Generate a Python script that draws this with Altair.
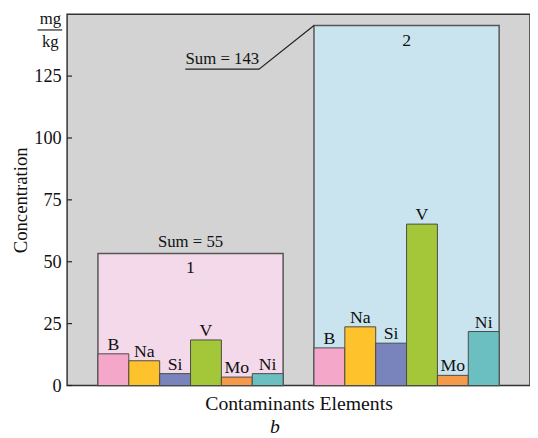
import altair as alt
import pandas as pd

elements = ["B", "Na", "Si", "V", "Mo", "Ni"]
group1_values = [12.8, 10.0, 4.8, 18.4, 3.4, 4.8]
group2_values = [15.2, 23.7, 17.1, 65.2, 4.1, 21.8]
element_colors = ["#F4A7C9", "#FDC22C", "#7A84BC", "#A4C73A", "#F59A4A", "#6BBFC0"]
group_ids = ["1", "2"]
group_sums = ["Sum = 55", "Sum = 143"]
group_start = [1, 8]
group_box_top = [53.3, 145.4]
group_fill = ["#F3D9E9", "#C9E4EF"]
y_ticks = [0, 25, 50, 75, 100, 125]
callout_x = [3.83, 6.22, 8.0]
callout_y = [127.8, 127.8, 145.4]

SERIF = "Liberation Serif"

rows = []
for g, vals in enumerate([group1_values, group2_values]):
    for i, (e, v) in enumerate(zip(elements, vals)):
        rows.append({"group": group_ids[g], "element": e, "value": v,
                     "x": group_start[g] + i, "x2": group_start[g] + i + 1,
                     "color": element_colors[i]})
bars_df = pd.DataFrame(rows)

boxes_df = pd.DataFrame({
    "group": group_ids,
    "x": group_start,
    "x2": [s + len(elements) for s in group_start],
    "top": group_box_top,
    "fill": group_fill,
    "cx": [s + len(elements) / 2 for s in group_start],
})

xs = alt.Scale(domain=[0, 15], nice=False, zero=False)
ys = alt.Scale(domain=[0, 150], nice=False)

xenc = alt.X("x:Q", scale=xs,
             axis=alt.Axis(title="Contaminants Elements", labels=False, ticks=False,
                           domain=False, grid=False, titleFont=SERIF, titleFontSize=20,
                           titleFontWeight="normal", titleColor="#111", titlePadding=8))
yenc = alt.Y("top:Q", scale=ys,
             axis=alt.Axis(title="Concentration", values=y_ticks, ticks=False, domain=False,
                           grid=False, labelFont=SERIF, labelFontSize=18.5, labelColor="#111",
                           labelPadding=6, titleFont=SERIF, titleFontSize=19,
                           titleFontWeight="normal", titleColor="#111", titlePadding=3))

boxes = alt.Chart(boxes_df).mark_rect(stroke="#555555", strokeWidth=1.5).encode(
    x=xenc, x2="x2:Q", y=yenc, y2=alt.datum(0),
    fill=alt.Fill("fill:N", scale=None))

bars = alt.Chart(bars_df).mark_rect(stroke="#4a4a4a", strokeWidth=1).encode(
    x=alt.X("x:Q", scale=xs), x2="x2:Q",
    y=alt.Y("value:Q", scale=ys), y2=alt.datum(0),
    fill=alt.Fill("color:N", scale=None))

bar_labels = alt.Chart(bars_df).transform_calculate(xc="datum.x + 0.5").mark_text(
    font=SERIF, fontSize=18, color="#111", baseline="alphabetic", dy=-4).encode(
    x=alt.X("xc:Q", scale=xs), y=alt.Y("value:Q", scale=ys), text="element:N")

group_labels = alt.Chart(pd.DataFrame({
    "cx": boxes_df["cx"], "y": [47.6, 139.0], "t": group_ids})).mark_text(
    font=SERIF, fontSize=18, color="#111").encode(
    x=alt.X("cx:Q", scale=xs), y=alt.Y("y:Q", scale=ys), text="t:N")

sum_labels = alt.Chart(pd.DataFrame({
    "cx": [4.0, 5.03], "y": [57.9, 131.7], "t": group_sums})).mark_text(
    font=SERIF, fontSize=17, color="#111").encode(
    x=alt.X("cx:Q", scale=xs), y=alt.Y("y:Q", scale=ys), text="t:N")

callout = alt.Chart(pd.DataFrame({"x": callout_x, "y": callout_y,
                                  "o": list(range(len(callout_x)))})).mark_line(
    color="#222", strokeWidth=1.2).encode(
    x=alt.X("x:Q", scale=xs), y=alt.Y("y:Q", scale=ys), order="o:Q")

tick_marks = alt.Chart(pd.DataFrame({"t": y_ticks})).mark_rule(
    color="#222", strokeWidth=1.2).encode(
    y=alt.Y("t:Q", scale=ys), x=alt.value(0), x2=alt.value(5))

unit_text = alt.Chart(pd.DataFrame({"u": ["mg", "kg"], "py": [10, 33]})).mark_text(
    font=SERIF, fontSize=17, color="#111", baseline="alphabetic").encode(
    x=alt.value(-17), y=alt.Y("py:Q", scale=None), text="u:N")

unit_line = alt.Chart(pd.DataFrame({"a": [0]})).mark_rule(
    color="#222", strokeWidth=1.2).encode(
    x=alt.value(-30), x2=alt.value(-5), y=alt.value(16))

chart = alt.layer(boxes, bars, bar_labels, group_labels, sum_labels, callout,
                  tick_marks, unit_text, unit_line).properties(
    width=470, height=377,
    autosize=alt.AutoSizeParams(type="none"),
    padding={"left": 60, "top": 3, "right": 0, "bottom": 50},
    title=alt.TitleParams("b", orient="bottom", font=SERIF, fontStyle="italic",
                          fontSize=20, fontWeight="normal", color="#111",
                          anchor="middle", dx=-24, offset=4),
    background="white",
).configure_view(fill="#D3D3D3", stroke="#333333", strokeWidth=1.5)

chart.save("out.html", embed_options={"renderer": "svg", "actions": False})
